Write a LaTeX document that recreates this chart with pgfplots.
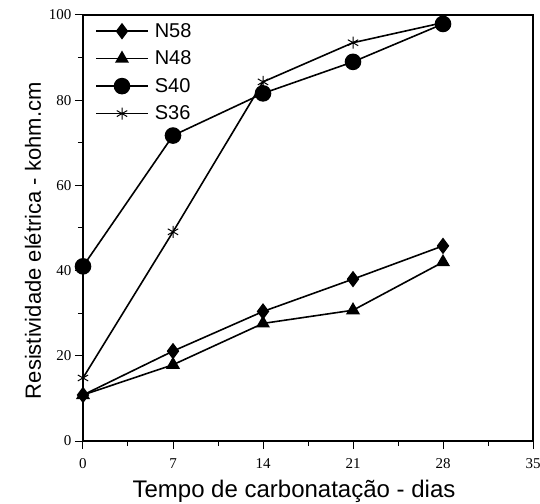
\documentclass[border=0pt]{standalone}
\usepackage{fontspec}
\setmainfont{Liberation Sans}
\newfontfamily\tickfont{Liberation Serif}
\usepackage{pgfplots}
\pgfplotsset{compat=1.18}
\usetikzlibrary{calc}
\begin{document}
\begin{tikzpicture}
\begin{axis}[
    scale only axis,
    width=450pt, height=426pt,
    xmin=0, xmax=35, ymin=0, ymax=100,
    xtick={0,7,...,35}, ytick={0,20,...,100},
    minor x tick num=1, minor y tick num=1,
    tick align=outside, tick pos=left,
    major tick length=8pt, minor tick length=5pt,
    tick style={black, line width=1pt},
    axis line style={line width=1.3pt},
    /pgf/number format/assume math mode=true,
    ticklabel style={font=\tickfont\fontsize{15}{15}\selectfont},
    xticklabel style={yshift=-6pt},
    xlabel={Tempo de carbonatação - dias},
    ylabel={Resistividade elétrica - kohm.cm},
    every axis x label/.style={at={(axis description cs:0.5,0)}, anchor=center, yshift=-50pt, xshift=-14pt,
        font=\fontsize{24}{24}\selectfont},
    every axis y label/.style={at={(axis description cs:0,0.47)}, anchor=center, rotate=90, yshift=50pt,
        font=\fontsize{22}{22}\selectfont},
    legend style={at={(axis description cs:0.02,0.99)}, anchor=north west, draw=none, fill=none,
        font=\fontsize{20}{20}\selectfont, row sep=8pt},
    legend cell align=left,
    /tikz/every odd column/.append style={column sep=4pt},
    legend image code/.code={\draw[mark repeat=2, mark phase=2] plot coordinates {(0pt,0pt) (26pt,0pt) (52pt,0pt)};},
    every axis plot/.append style={black, line width=1.6pt, mark options={solid, fill=black}},
]
% N58
\addplot[mark=diamond*, mark size=7pt] coordinates {(0,10.8) (7,21.1) (14,30.4) (21,38.0) (28,45.8)};
\addlegendentry{N58}
% N48
\addplot[mark=triangle*, mark size=6.5pt] coordinates {(0,10.8) (7,17.9) (14,27.6) (21,30.7) (28,42.0)};
\addlegendentry{N48}
% S40
\addplot[mark=*, mark size=7.5pt] coordinates {(0,41.0) (7,71.7) (14,81.6) (21,89.0) (28,97.9)};
\addlegendentry{S40}
% S36
\addplot[mark=asterisk, mark size=6pt, mark options={line width=1pt}] coordinates {(0,14.8) (7,49.1) (14,84.3) (21,93.5) (28,98.2)};
\addlegendentry{S36}
\end{axis}
\pgfresetboundingbox
\path[use as bounding box] ($(current axis.south west)+(-83pt,-62pt)$) rectangle ($(current axis.north east)+(7pt,15pt)$);
\end{tikzpicture}
\end{document}
